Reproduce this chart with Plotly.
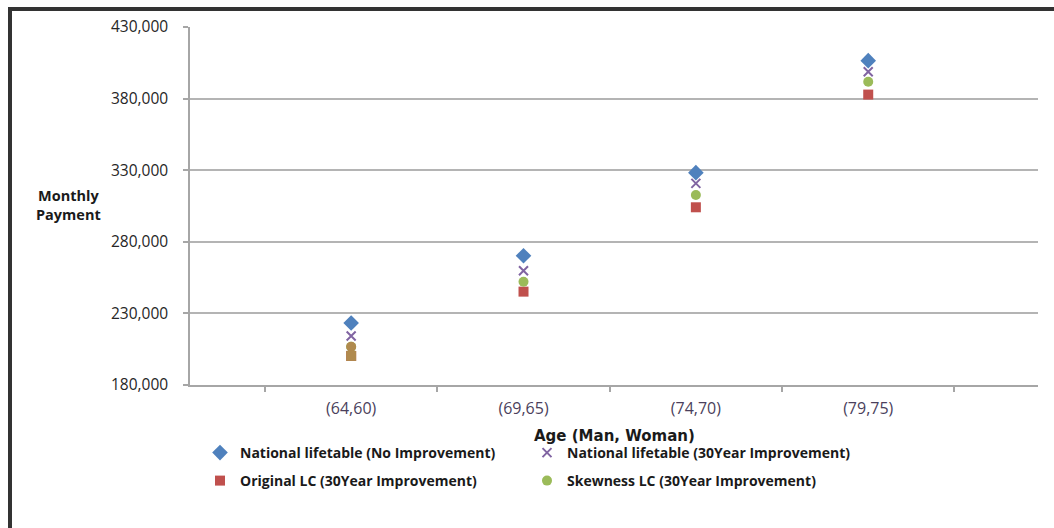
import plotly.graph_objects as go

# Age pairs (man, woman) on the horizontal axis
age_groups = ["(64,60)", "(69,65)", "(74,70)", "(79,75)"]
x_pos = [0, 1, 2, 3]

# Monthly payment by mortality assumption
national_no_improvement = [223300, 270300, 328300, 406500]
national_30yr = [214200, 259800, 320800, 398800]
original_lc_30yr = [200300, 245200, 304100, 382800]
skewness_lc_30yr = [206700, 252100, 312700, 391800]

y_ticks = [180000, 230000, 280000, 330000, 380000, 430000]

BLUE = "#4F81BD"
PURPLE = "#8064A2"
RED = "#C0504D"
GREEN = "#9BBB59"
TAN = "#B08A4E"

fig = go.Figure()

fig.add_trace(go.Scatter(
    x=x_pos, y=national_no_improvement, mode="markers",
    name="National lifetable (No Improvement)",
    marker=dict(symbol="diamond", size=12, color=BLUE),
    legend="legend",
))
fig.add_trace(go.Scatter(
    x=x_pos, y=national_30yr, mode="markers",
    name="National lifetable (30Year Improvement)",
    marker=dict(symbol="x-thin", size=9, color=PURPLE,
                line=dict(width=2, color=PURPLE)),
    legend="legend",
))
fig.add_trace(go.Scatter(
    x=x_pos, y=original_lc_30yr, mode="markers",
    name="Original LC (30Year Improvement)",
    marker=dict(symbol="square", size=10, color=RED),
    legend="legend2",
))
fig.add_trace(go.Scatter(
    x=x_pos, y=skewness_lc_30yr, mode="markers",
    name="Skewness LC (30Year Improvement)",
    marker=dict(symbol="circle", size=10, color=GREEN),
    legend="legend2",
))

# The youngest age group's two LC markers are shown in a tan tone
fig.add_trace(go.Scatter(
    x=[x_pos[0], x_pos[0]], y=[skewness_lc_30yr[0], original_lc_30yr[0]],
    mode="markers", showlegend=False, hoverinfo="skip",
    marker=dict(symbol=["circle", "square"], size=10, color=TAN),
))

W, H = 1054, 528
L, R, T, B = 190, 16, 27, 143
pw, ph = W - L - R, H - T - B


def px_x(p):
    return (p - L) / pw


def px_y(p):
    return (H - B - p) / ph


legend_font = dict(family="Open Sans", size=14, color="#1a1a1a", weight="bold")

fig.update_layout(
    width=W, height=H,
    margin=dict(l=L, r=R, t=T, b=B),
    paper_bgcolor="white",
    plot_bgcolor="white",
    showlegend=True,
    legend=dict(
        orientation="h", x=px_x(200), y=px_y(437), xanchor="left", yanchor="top",
        entrywidth=282, entrywidthmode="pixels", itemwidth=30,
        font=legend_font, bgcolor="rgba(0,0,0,0)",
    ),
    legend2=dict(
        orientation="h", x=px_x(200), y=px_y(465), xanchor="left", yanchor="top",
        entrywidth=282, entrywidthmode="pixels", itemwidth=30,
        font=legend_font, bgcolor="rgba(0,0,0,0)",
    ),
    xaxis=dict(
        range=[-0.935, 3.985],
        tickmode="array", tickvals=x_pos, ticktext=age_groups,
        ticks="", showgrid=False, zeroline=False,
        showline=True, linecolor="#A6A6A6", linewidth=1.5,
        tickfont=dict(family="Open Sans", size=16, color="#4B3F5C"),
        ticklabelstandoff=8,
        minor=dict(tickmode="array", tickvals=[-0.5, 0.5, 1.5, 2.5, 3.5],
                   ticks="outside", ticklen=5, tickcolor="#A6A6A6", tickwidth=1.5,
                   showgrid=False),
    ),
    yaxis=dict(
        range=[180000, 430000],
        tickmode="array", tickvals=y_ticks, tickformat=",d",
        ticks="outside", ticklen=5, tickcolor="#A6A6A6", tickwidth=1.5,
        showgrid=True, gridcolor="#B4B4B4", gridwidth=1.5,
        zeroline=False, showline=True, linecolor="#A6A6A6", linewidth=1.5,
        tickfont=dict(family="Open Sans", size=15.5, color="#262626"),
        ticklabelstandoff=12,
    ),
    annotations=[
        dict(text="<b>Monthly<br>Payment</b>", xref="paper", yref="paper",
             x=px_x(68), y=px_y(205), xanchor="center", yanchor="middle",
             showarrow=False, align="center",
             font=dict(family="Open Sans", size=14.5, color="#1a1a1a")),
        dict(text="<b>Age (Man, Woman)</b>", xref="paper", yref="paper",
             x=px_x(614), y=px_y(436), xanchor="center", yanchor="middle",
             showarrow=False,
             font=dict(family="DejaVu Sans", size=15, color="#1a1a1a")),
    ],
    shapes=[
        dict(type="line", xref="paper", yref="paper",
             x0=px_x(10), x1=px_x(1060), y0=px_y(9), y1=px_y(9),
             line=dict(color="#333333", width=4)),
        dict(type="line", xref="paper", yref="paper",
             x0=px_x(10), x1=px_x(10), y0=px_y(7), y1=px_y(540),
             line=dict(color="#333333", width=4)),
    ],
)

fig.write_html("out.html")
